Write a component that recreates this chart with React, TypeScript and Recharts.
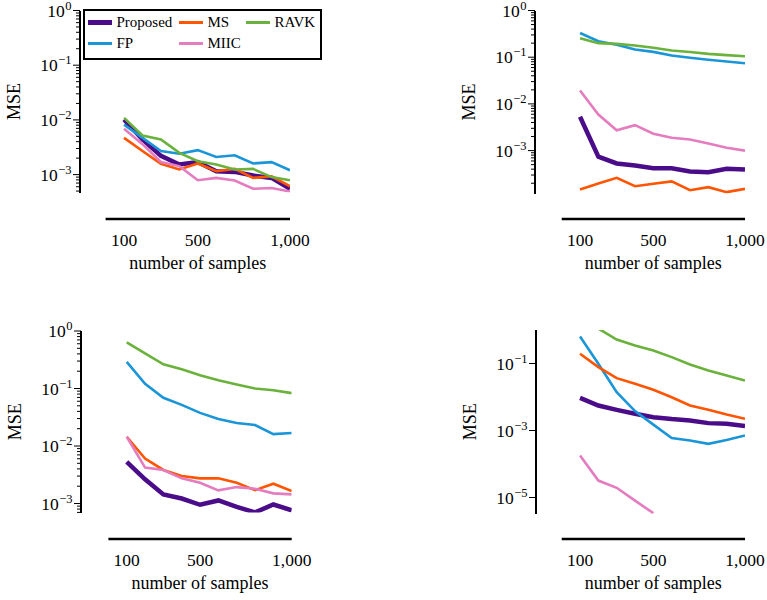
import React from 'react';
import { LineChart, Line, XAxis, YAxis, ReferenceLine, Legend } from 'recharts';

const SAMPLES = [100, 200, 300, 400, 500, 600, 700, 800, 900, 1000];
const X_TICKS = [100, 500, 1000];
const SERIES = ['Proposed', 'FP', 'MS', 'MIIC', 'RAVK'];
const LEGEND_ORDER = ['Proposed', 'MS', 'RAVK', 'FP', 'MIIC'];
const COLORS: Record<string, string> = {
  Proposed: '#4b0c8a',
  MS: '#ff5400',
  RAVK: '#6ab23c',
  FP: '#1a96d8',
  MIIC: '#e47cbf',
};
const WIDTHS: Record<string, number> = { Proposed: 4.5, MS: 2.6, RAVK: 2.6, FP: 2.6, MIIC: 2.6 };

// Panel 1 (top left)
const P1_PROPOSED = [0.0102, 0.0044, 0.0022, 0.00153, 0.0017, 0.00115, 0.00112, 0.00096, 0.00087, 0.00055];
const P1_FP = [0.0082, 0.0047, 0.0027, 0.0024, 0.0028, 0.0021, 0.00226, 0.0016, 0.00169, 0.0012];
const P1_MS = [0.0047, 0.0027, 0.00158, 0.00124, 0.0016, 0.00115, 0.00127, 0.00087, 0.00093, 0.00061];
const P1_MIIC = [0.0069, 0.0036, 0.0017, 0.00143, 0.00079, 0.00087, 0.00078, 0.00055, 0.00057, 0.00049];
const P1_RAVK = [0.0109, 0.0052, 0.0044, 0.0025, 0.00176, 0.00153, 0.00124, 0.00127, 0.0009, 0.00079];

// Panel 2 (top right)
const P2_PROPOSED = [0.0053, 0.00074, 0.00053, 0.00048, 0.00042, 0.00042, 0.000356, 0.000345, 0.00041, 0.000394];
const P2_FP = [0.33, 0.22, 0.184, 0.146, 0.13, 0.109, 0.097, 0.088, 0.081, 0.074];
const P2_MS = [0.000147, 0.000197, 0.000261, 0.000173, 0.000195, 0.000219, 0.000142, 0.000165, 0.000129, 0.000152];
const P2_MIIC = [0.0194, 0.0059, 0.00273, 0.0035, 0.00229, 0.00188, 0.00173, 0.00142, 0.00115, 0.001];
const P2_RAVK = [0.255, 0.2, 0.193, 0.178, 0.159, 0.139, 0.129, 0.118, 0.111, 0.105];

// Panel 3 (bottom left)
const P3_PROPOSED = [0.00528, 0.00263, 0.00144, 0.00122, 0.00095, 0.00113, 0.00087, 0.0007, 0.00096, 0.00076];
const P3_FP = [0.291, 0.121, 0.069, 0.052, 0.0377, 0.0296, 0.0251, 0.0232, 0.0161, 0.0168];
const P3_MS = [0.0145, 0.00605, 0.00383, 0.00301, 0.00274, 0.00274, 0.0023, 0.00171, 0.00221, 0.00164];
const P3_MIIC = [0.0145, 0.0042, 0.00383, 0.00274, 0.0023, 0.00169, 0.00193, 0.00181, 0.0015, 0.00144];
const P3_RAVK = [0.634, 0.407, 0.264, 0.216, 0.17, 0.139, 0.117, 0.1, 0.093, 0.083];

// Panel 4 (bottom right)
const P4_PROPOSED = [0.0094, 0.00557, 0.00414, 0.00316, 0.0025, 0.0022, 0.002, 0.00166, 0.00159, 0.00135];
const P4_FP = [0.64, 0.098, 0.0139, 0.0038, 0.0015, 0.0006, 0.0005, 0.0004, 0.00052, 0.00071];
const P4_MS = [0.195, 0.078, 0.0365, 0.0247, 0.0164, 0.00986, 0.00557, 0.00414, 0.003, 0.00224];
const P4_MIIC = [0.000179, 0.000032, 0.0000195, 0.0000081, 0.0000034, null, null, null, null, null];
const P4_RAVK = [3.0, 1.1, 0.52, 0.344, 0.244, 0.155, 0.093, 0.062, 0.044, 0.031];

// y-axis ticks (major decades) and axis limits
const P1_MAJOR = [1, 0.1, 0.01, 0.001];
const P2_MAJOR = [1, 0.1, 0.01, 0.001];
const P3_MAJOR = [1, 0.1, 0.01, 0.001];
const P4_MAJOR = [0.1, 0.001, 0.00001];
const MINOR_MULTIPLIERS = [2, 3, 4, 5, 6, 7, 8, 9];
const Y_LIMITS = [
  [0.00047, 1],
  [0.00012, 1],
  [0.000695, 1],
  [0.0000033, 1],
];

const FONT = '"Liberation Serif", "DejaVu Serif", serif';

function buildRows(p: (number | null)[], fp: (number | null)[], ms: (number | null)[], miic: (number | null)[], ravk: (number | null)[]) {
  return SAMPLES.map((n, i) => ({ n, Proposed: p[i], FP: fp[i], MS: ms[i], MIIC: miic[i], RAVK: ravk[i] }));
}

function buildMinor(majors: number[], withMinor: boolean, lo: number, hi: number) {
  const out: number[] = [];
  if (withMinor) {
    majors.forEach((m) => {
      MINOR_MULTIPLIERS.forEach((k) => {
        out.push(Number(((m / 10) * k).toPrecision(6)));
      });
    });
  }
  return out.filter((v) => v >= lo && v <= hi).sort((a, b) => a - b);
}

type Layout = {
  left: number; top: number; w: number; h: number;
  spineX: number; x0: number; x1000: number;
  plotTop: number; decade: number; xSpineY: number;
};

const PANELS = [
  {
    rows: buildRows(P1_PROPOSED, P1_FP, P1_MS, P1_MIIC, P1_RAVK),
    majors: P1_MAJOR, minor: true, lim: Y_LIMITS[0], legend: true,
    layout: { left: 0, top: 0, w: 383, h: 300, spineX: 80, x0: 105.6, x1000: 290, plotTop: 10.5, decade: 54.7, xSpineY: 219 } as Layout,
  },
  {
    rows: buildRows(P2_PROPOSED, P2_FP, P2_MS, P2_MIIC, P2_RAVK),
    majors: P2_MAJOR, minor: true, lim: Y_LIMITS[1], legend: false,
    layout: { left: 383, top: 0, w: 384, h: 300, spineX: 535, x0: 561.7, x1000: 745, plotTop: 10.5, decade: 46.7, xSpineY: 219 } as Layout,
  },
  {
    rows: buildRows(P3_PROPOSED, P3_FP, P3_MS, P3_MIIC, P3_RAVK),
    majors: P3_MAJOR, minor: true, lim: Y_LIMITS[2], legend: false,
    layout: { left: 0, top: 300, w: 383, h: 300, spineX: 81, x0: 108.4, x1000: 291.7, plotTop: 331, decade: 57.5, xSpineY: 539 } as Layout,
  },
  {
    rows: buildRows(P4_PROPOSED, P4_FP, P4_MS, P4_MIIC, P4_RAVK),
    majors: P4_MAJOR, minor: false, lim: Y_LIMITS[3], legend: false,
    layout: { left: 383, top: 300, w: 384, h: 300, spineX: 536, x0: 561.7, x1000: 745, plotTop: 330, decade: 33.5, xSpineY: 539 } as Layout,
  },
];

const YTick = (props: any) => {
  const { x, y, payload } = props;
  const v = payload.value as number;
  const e = Math.round(Math.log10(v));
  const expText = e < 0 ? '\u2212' + String(-e) : String(e);
  return (
    <text x={x - 8.5} y={y + 6} textAnchor="end" fontFamily={FONT} fontSize={17.5} fill="#000">
      10
      <tspan dy={-7} dx={0.5} fontSize={12.5}>{expText}</tspan>
    </text>
  );
};

const makeXTick = (drop: number) => (props: any) => {
  const { x, y, payload } = props;
  return (
    <text x={x} y={y + drop + 27} textAnchor="middle" fontFamily={FONT} fontSize={17.5} fill="#000">
      {Number(payload.value).toLocaleString('en-US')}
    </text>
  );
};

const LegendBox = () => (
  <div
    style={{
      border: '2.5px solid #000',
      background: '#fff',
      boxSizing: 'border-box',
      width: 239,
      height: 51,
      padding: '1px 0 0 2.5px',
      display: 'grid',
      gridTemplateColumns: '91px 67px 75px',
      gridAutoRows: '21px',
      fontFamily: FONT,
      fontSize: 15,
      color: '#000',
    }}
  >
    {LEGEND_ORDER.map((name) => (
      <div key={name} style={{ display: 'flex', alignItems: 'center', whiteSpace: 'nowrap' }}>
        <span
          style={{
            display: 'inline-block',
            width: 24,
            height: WIDTHS[name],
            background: COLORS[name],
            marginRight: 5,
          }}
        />
        <span>{name}</span>
      </div>
    ))}
  </div>
);

function Panel({ panel }: { panel: (typeof PANELS)[number] }) {
  const L = panel.layout;
  const ySpineMin = panel.lim[0];
  const ySpineMax = panel.lim[1];
  const pxPerUnit = (L.x1000 - L.x0) / 1000;
  const xMin = -(L.x0 - L.spineX) / pxPerUnit;
  const plotBottom = L.plotTop + -Math.log10(ySpineMin) * L.decade;
  const drop = L.xSpineY - plotBottom;
  const xSpineVal = Math.pow(10, -(L.xSpineY - L.plotTop) / L.decade);
  const minors = buildMinor(panel.majors, panel.minor, ySpineMin, ySpineMax);
  const xAxisH = 80;
  const margin = {
    top: L.plotTop - L.top,
    right: L.left + L.w - L.x1000,
    bottom: L.top + L.h - plotBottom - xAxisH,
    left: 0,
  };
  const mseX = L.spineX - 65.5 - L.left;
  const mseY = (L.plotTop + plotBottom) / 2 - L.top;
  const xLabelX = (L.x0 + L.x1000) / 2 - L.left;
  const xLabelY = L.xSpineY + 50 - L.top;
  const majorTickEnd = xMin - 7 / pxPerUnit;
  const minorTickEnd = xMin - 4 / pxPerUnit;

  return (
    <div style={{ position: 'absolute', left: L.left, top: L.top, width: L.w, height: L.h }}>
      <LineChart width={L.w} height={L.h} data={panel.rows} margin={margin}>
        <XAxis
          dataKey="n"
          type="number"
          domain={[xMin, 1000]}
          allowDataOverflow
          ticks={X_TICKS}
          interval={0}
          axisLine={false}
          tickLine={false}
          tickSize={0}
          tickMargin={0}
          height={xAxisH}
          tick={makeXTick(drop)}
          label={{
            content: () => (
              <text x={xLabelX} y={xLabelY} textAnchor="middle" fontFamily={FONT} fontSize={18} fill="#000">
                number of samples
              </text>
            ),
          }}
        />
        <YAxis
          type="number"
          scale="log"
          domain={[ySpineMin, ySpineMax]}
          allowDataOverflow
          width={L.spineX - L.left}
          ticks={panel.majors}
          interval={0}
          axisLine={false}
          tickLine={false}
          tickSize={0}
          tickMargin={0}
          tick={YTick}
          label={{
            content: () => (
              <text
                x={mseX}
                y={mseY}
                textAnchor="middle"
                dominantBaseline="central"
                transform={`rotate(-90 ${mseX} ${mseY})`}
                fontFamily={FONT}
                fontSize={18}
                fill="#000"
              >
                MSE
              </text>
            ),
          }}
        />
        <ReferenceLine
          segment={[{ x: 0, y: xSpineVal }, { x: 1000, y: xSpineVal }]}
          stroke="#000"
          strokeWidth={2.4}
          ifOverflow="visible"
        />
        {panel.majors.map((t) => (
          <ReferenceLine
            key={'M' + t}
            segment={[{ x: majorTickEnd, y: t }, { x: xMin, y: t }]}
            stroke="#000"
            strokeWidth={1}
            ifOverflow="visible"
          />
        ))}
        {minors.map((t) => (
          <ReferenceLine
            key={'m' + t}
            segment={[{ x: minorTickEnd, y: t }, { x: xMin, y: t }]}
            stroke="#000"
            strokeWidth={1}
            ifOverflow="visible"
          />
        ))}
        {SERIES.map((s) => (
          <Line
            key={s}
            dataKey={s}
            stroke={COLORS[s]}
            strokeWidth={WIDTHS[s]}
            dot={false}
            isAnimationActive={false}
          />
        ))}
        {panel.legend && (
          <Legend
            layout="vertical"
            align="center"
            verticalAlign="middle"
            wrapperStyle={{ left: 83, top: 9, width: 239, height: 51 }}
            content={() => <LegendBox />}
          />
        )}
      </LineChart>
      <div
        style={{
          position: 'absolute',
          left: L.spineX - L.left - 1.1,
          top: L.plotTop - L.top,
          width: 2.2,
          height: plotBottom - L.plotTop,
          background: '#000',
          pointerEvents: 'none',
        }}
      />
    </div>
  );
}

export default function App() {
  return (
    <div style={{ position: 'absolute', left: 0, top: 0, width: 767, height: 600 }}>
      {PANELS.map((p, i) => (
        <Panel key={i} panel={p} />
      ))}
    </div>
  );
}
